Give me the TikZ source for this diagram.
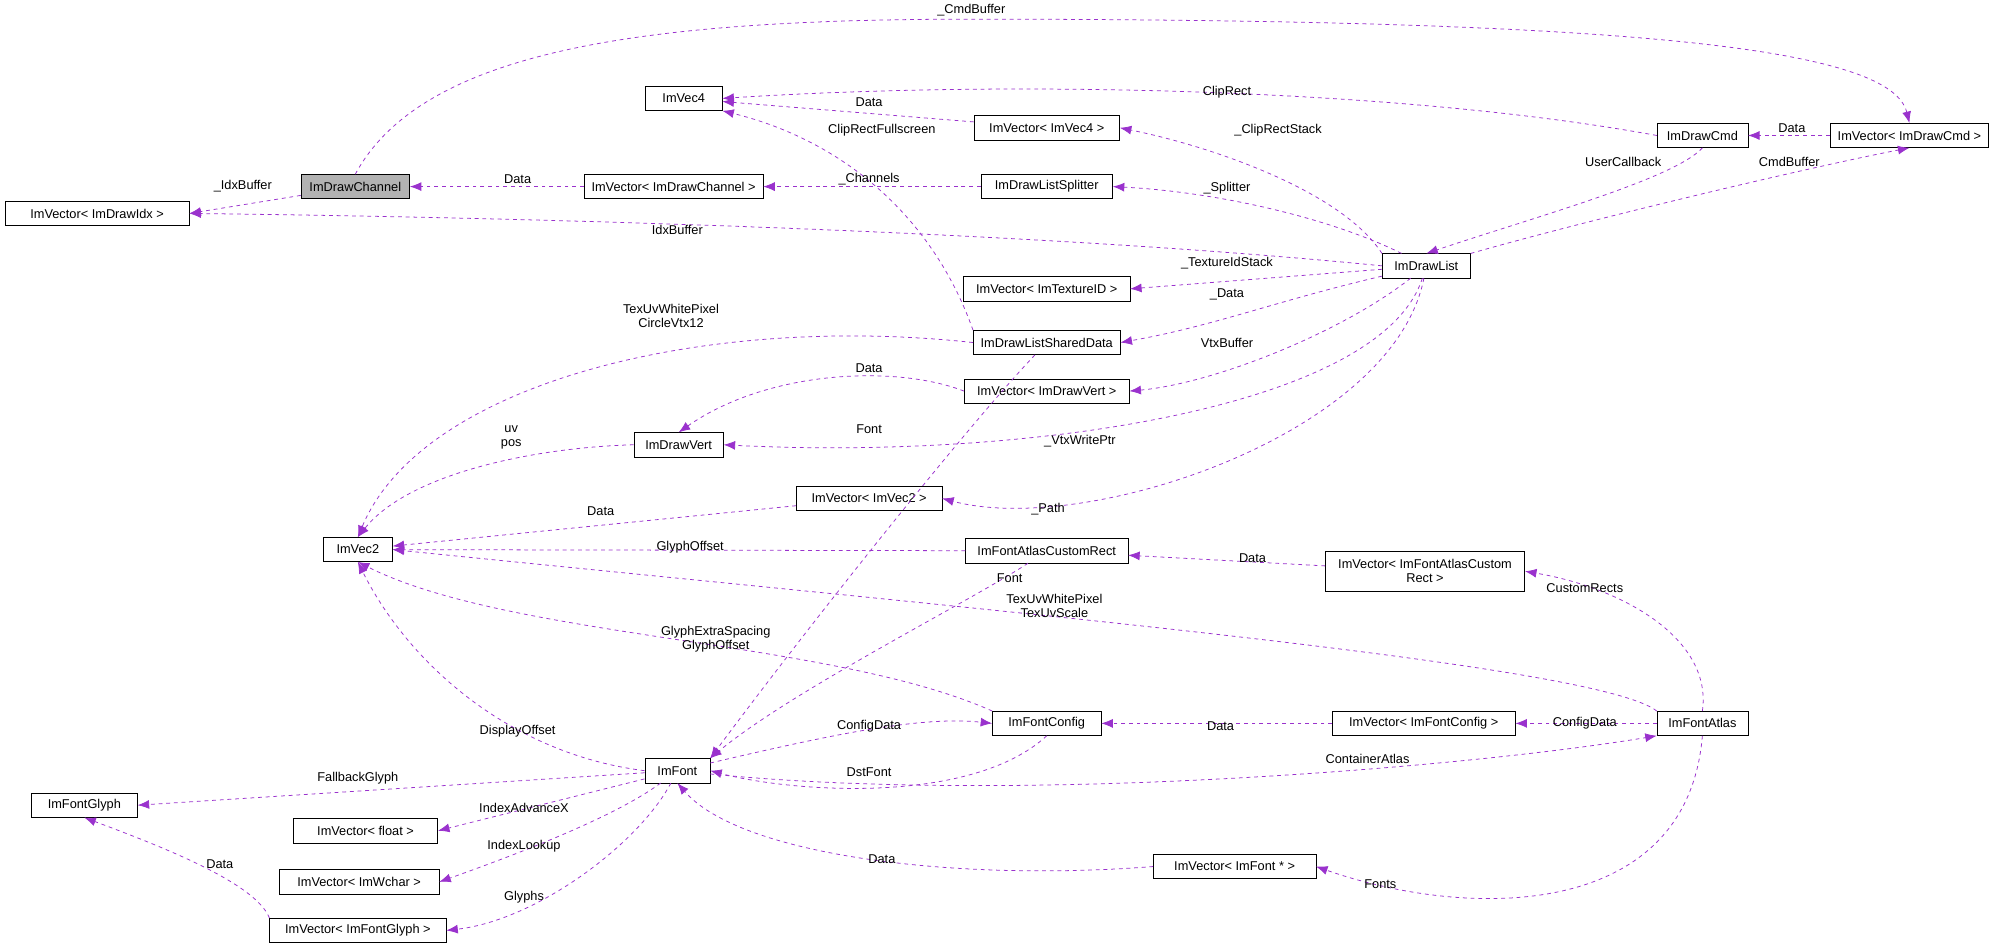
\documentclass[tikz,border=0pt]{standalone}
\usepackage{fontspec}
\setmainfont{Liberation Sans}
\usetikzlibrary{arrows.meta}
\definecolor{edgecol}{HTML}{9A32CD}
\tikzset{
  cls/.style={draw, fill=white, inner sep=2pt, minimum height=19pt, font=\fontsize{10}{11}\selectfont, align=center},
  rel/.style={draw=edgecol, dashed, line width=0.6pt, -{Latex[length=9pt,width=7pt]}, fill=none},
  lbl/.style={font=\fontsize{10}{11}\selectfont, align=center, inner sep=1pt}
}
\begin{document}
\begin{tikzpicture}[x=1pt,y=-1pt]
\useasboundingbox (0,0) rectangle (1568,744);
% classes
\node[cls, fill=gray!60, minimum width=85pt] (ch) at (278,146) {ImDrawChannel};
\node[cls, minimum width=144pt] (vidx) at (76,167) {ImVector\textless{} ImDrawIdx \textgreater{}};
\node[cls, minimum width=60pt] (v4) at (535,77) {ImVec4};
\node[cls, minimum width=140pt] (vch) at (527,146) {ImVector\textless{} ImDrawChannel \textgreater{}};
\node[cls, minimum width=114pt] (vv4) at (819,100) {ImVector\textless{} ImVec4 \textgreater{}};
\node[cls, minimum width=103pt] (spl) at (819,146) {ImDrawListSplitter};
\node[cls, minimum width=71pt] (cmd) at (1332,106) {ImDrawCmd};
\node[cls, minimum width=124pt] (vdc) at (1494,106) {ImVector\textless{} ImDrawCmd \textgreater{}};
\node[cls, minimum width=69pt] (dl) at (1116,208) {ImDrawList};
\node[cls, minimum width=130pt] (vtex) at (819,226) {ImVector\textless{} ImTextureID \textgreater{}};
\node[cls, minimum width=115pt] (shd) at (819,268) {ImDrawListSharedData};
\node[cls, minimum width=129pt] (vdv) at (819,306) {ImVector\textless{} ImDrawVert \textgreater{}};
\node[cls, minimum width=70pt] (dv) at (531,348) {ImDrawVert};
\node[cls, minimum width=114pt] (vv2) at (680,390) {ImVector\textless{} ImVec2 \textgreater{}};
\node[cls, minimum width=54pt] (v2) at (280,430) {ImVec2};
\node[cls, minimum width=127pt] (far) at (819,431) {ImFontAtlasCustomRect};
\node[cls, minimum width=156pt, minimum height=32pt] (vfar) at (1115,447) {ImVector\textless{} ImFontAtlasCustom\\Rect \textgreater{}};
\node[cls, minimum width=85pt] (fc) at (819,566) {ImFontConfig};
\node[cls, minimum width=143pt] (vfc) at (1114,566) {ImVector\textless{} ImFontConfig \textgreater{}};
\node[cls, minimum width=71pt] (fa) at (1332,566) {ImFontAtlas};
\node[cls, minimum width=51pt] (font) at (530,603) {ImFont};
\node[cls, minimum width=83pt] (fg) at (66,630) {ImFontGlyph};
\node[cls, minimum width=113pt] (vfl) at (286,650) {ImVector\textless{} float \textgreater{}};
\node[cls, minimum width=125pt] (vwc) at (281,690) {ImVector\textless{} ImWchar \textgreater{}};
\node[cls, minimum width=138pt] (vfg) at (280,728) {ImVector\textless{} ImFontGlyph \textgreater{}};
\node[cls, minimum width=127pt] (vfp) at (966,678) {ImVector\textless{} ImFont * \textgreater{}};

% relations
\draw[rel] (ch.north) .. controls (330,40) and (500,15) .. (760,15) .. controls (1300,15) and (1480,40) .. (vdc.north);
\draw[rel] (ch) -- (vidx.east);
\draw[rel] (vch) -- (ch);
\draw[rel] (vv4) -- (v4);
\draw[rel] (cmd.west) .. controls (1100,70) and (800,62) .. (v4.east);
\draw[rel] (shd.north west) .. controls (730,170) and (660,110) .. (v4.south east);
\draw[rel] (spl) -- (vch);
\draw[rel] (vdc) -- (cmd);
\draw[rel] (cmd.south) .. controls (1310,140) and (1200,170) .. (dl.north);
\draw[rel] (dl.north east) .. controls (1250,170) and (1420,130) .. (vdc.south);
\draw[rel] (dl.north west) .. controls (1050,150) and (950,115) .. (vv4.east);
\draw[rel] (dl) .. controls (1040,170) and (950,150) .. (spl.east);
\draw[rel] (dl.west) .. controls (800,180) and (400,170) .. (vidx.east);
\draw[rel] (dl) -- (vtex.east);
\draw[rel] (dl) .. controls (1000,235) and (950,255) .. (shd.east);
\draw[rel] (dl) .. controls (1050,260) and (950,300) .. (vdv.east);
\draw[rel] (dl) .. controls (1080,320) and (800,360) .. (dv.east);
\draw[rel] (dl) .. controls (1090,340) and (850,420) .. (vv2.east);
\draw[rel] (shd.west) .. controls (550,245) and (330,300) .. (v2.north);
\draw[rel] (shd) .. controls (760,330) and (640,480) .. (font.north east);
\draw[rel] (vdv.west) .. controls (700,285) and (600,290) .. (dv.north);
\draw[rel] (dv.west) .. controls (420,350) and (320,370) .. (v2.north);
\draw[rel] (vv2) -- (v2);
\draw[rel] (far) -- (v2);
\draw[rel] (far) .. controls (760,470) and (620,540) .. (font.north east);
\draw[rel] (vfar) -- (far);
\draw[rel] (fa.north west) .. controls (1250,520) and (800,480) .. (v2.east);
\draw[rel] (fa.north) .. controls (1340,500) and (1270,460) .. (vfar.east);
\draw[rel] (fc.north west) .. controls (650,500) and (400,500) .. (v2.south);
\draw[rel] (font.west) .. controls (400,590) and (320,520) .. (v2.south);
\draw[rel] (font) .. controls (650,575) and (720,560) .. (fc.west);
\draw[rel] (fc.south) .. controls (760,630) and (620,620) .. (font.east);
\draw[rel] (vfc) -- (fc);
\draw[rel] (fa) -- (vfc);
\draw[rel] (font) .. controls (800,630) and (1150,600) .. (fa.south west);
\draw[rel] (font) -- (fg.east);
\draw[rel] (font) -- (vfl.east);
\draw[rel] (font) .. controls (480,640) and (400,670) .. (vwc.east);
\draw[rel] (font) .. controls (500,660) and (420,720) .. (vfg.east);
\draw[rel] (vfg.north west) .. controls (200,690) and (120,660) .. (fg.south);
\draw[rel] (vfp.west) .. controls (750,690) and (580,670) .. (font.south);
\draw[rel] (fa.south) .. controls (1320,720) and (1150,720) .. (vfp.east);

% labels
\node[lbl] (l1) at (760,8) {\_CmdBuffer};
\node[lbl] (l2) at (190,146) {\_IdxBuffer};
\node[lbl] (l3) at (405,140) {Data};
\node[lbl] (l4) at (680,80) {Data};
\node[lbl] (l5) at (960,72) {ClipRect};
\node[lbl] (l6) at (690,102) {ClipRectFullscreen};
\node[lbl] (l7) at (680,140) {\_Channels};
\node[lbl] (l8) at (1402,100) {Data};
\node[lbl] (l9) at (1270,127) {UserCallback};
\node[lbl] (l10) at (1400,127) {CmdBuffer};
\node[lbl] (l11) at (1000,102) {\_ClipRectStack};
\node[lbl] (l12) at (960,147) {\_Splitter};
\node[lbl] (l13) at (530,180) {IdxBuffer};
\node[lbl] (l14) at (960,206) {\_TextureIdStack};
\node[lbl] (l15) at (960,230) {\_Data};
\node[lbl] (l16) at (960,268) {VtxBuffer};
\node[lbl] (l17) at (845,345) {\_VtxWritePtr};
\node[lbl] (l18) at (820,398) {\_Path};
\node[lbl] (l19) at (525,247) {TexUvWhitePixel\\CircleVtx12};
\node[lbl] (l20) at (680,336) {Font};
\node[lbl] (l21) at (680,288) {Data};
\node[lbl] (l22) at (400,342) {uv\\pos};
\node[lbl] (l23) at (470,400) {Data};
\node[lbl] (l24) at (540,428) {GlyphOffset};
\node[lbl] (l25) at (790,452) {Font};
\node[lbl] (l26) at (980,437) {Data};
\node[lbl] (l27) at (825,474) {TexUvWhitePixel\\TexUvScale};
\node[lbl] (l28) at (1240,460) {CustomRects};
\node[lbl] (l29) at (560,500) {GlyphExtraSpacing\\GlyphOffset};
\node[lbl] (l30) at (405,572) {DisplayOffset};
\node[lbl] (l31) at (680,568) {ConfigData};
\node[lbl] (l32) at (680,604) {DstFont};
\node[lbl] (l33) at (955,568) {Data};
\node[lbl] (l34) at (1240,566) {ConfigData};
\node[lbl] (l35) at (1070,594) {ContainerAtlas};
\node[lbl] (l36) at (280,609) {FallbackGlyph};
\node[lbl] (l37) at (410,632) {IndexAdvanceX};
\node[lbl] (l38) at (410,662) {IndexLookup};
\node[lbl] (l39) at (410,702) {Glyphs};
\node[lbl] (l40) at (172,676) {Data};
\node[lbl] (l41) at (690,672) {Data};
\node[lbl] (l42) at (1080,692) {Fonts};
\end{tikzpicture}
\end{document}
